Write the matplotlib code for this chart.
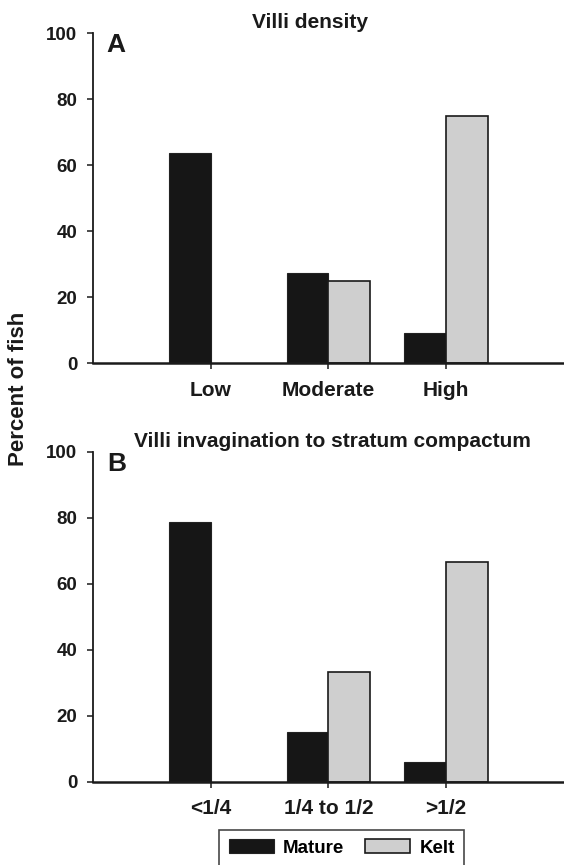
import matplotlib
matplotlib.use('Agg')
import matplotlib.pyplot as plt
import matplotlib.patches as mpatches
import numpy as np

plt.rcParams['font.family'] = ['Liberation Sans', 'DejaVu Sans']
plt.rcParams['font.weight'] = 'bold'

# datos
cat_a = ['Low', 'Moderate', 'High']
mature_a = [63.6, 27.3, 9.1]
kelt_a = [0, 25.0, 75.0]

cat_b = ['<1/4', '1/4 to 1/2', '>1/2']
mature_b = [78.8, 15.2, 6.1]
kelt_b = [0, 33.3, 66.7]

yticks = [0, 20, 40, 60, 80, 100]
series = ['Mature', 'Kelt']
col_mature = '#161616'
col_kelt = '#cfcfcf'

W, H = 564, 865
fig = plt.figure(figsize=(W / 100, H / 100), dpi=100)

def panel(rect, cats, mat, kel, letter):
    ax = fig.add_axes(rect)
    x = np.arange(1, len(cats) + 1)
    w = 0.355
    b1 = ax.bar(x, mat, width=-w, align='edge', color=col_mature,
                edgecolor='#222222', linewidth=0.8)
    b2 = ax.bar(x, kel, width=w, align='edge', color=col_kelt,
                edgecolor='#1a1a1a', linewidth=1.2)
    # barras de altura cero no se ven en el original
    for p in list(b1) + list(b2):
        if p.get_height() == 0:
            p.set_visible(False)
    ax.set_xlim(0, 4)
    ax.set_ylim(0, 100)
    ax.set_yticks(yticks)
    ax.set_xticks(x)
    ax.set_xticklabels(cats)
    ax.spines['top'].set_visible(False)
    ax.spines['right'].set_visible(False)
    ax.spines['left'].set_linewidth(1.3)
    ax.spines['bottom'].set_linewidth(1.8)
    ax.spines['left'].set_color('#1a1a1a')
    ax.spines['bottom'].set_color('#1a1a1a')
    ax.tick_params(axis='y', direction='out', length=4, width=1.1,
                   pad=7, labelsize=13.5, colors='#1a1a1a')
    ax.tick_params(axis='x', direction='out', length=4.5, width=1.1,
                   pad=8, labelsize=15, colors='#1a1a1a')
    for lb in ax.get_xticklabels() + ax.get_yticklabels():
        lb.set_fontweight('bold')
    ax.text(0.03, 1.0, letter, transform=ax.transAxes, fontsize=19,
            fontweight='bold', va='top', ha='left', color='#1a1a1a')
    ax.patch.set_alpha(0)
    return ax

left = 92.7 / W
width = 1 - left
hgt = 330 / H
axA = panel([left, (H - 363.3) / H, width, hgt], cat_a, mature_a, kelt_a, 'A')
axB = panel([left, (H - 781.7) / H, width, hgt], cat_b, mature_b, kelt_b, 'B')

fig.text(310 / W, 1 - 28.5 / H, 'Villi density', ha='center',
         va='baseline', fontsize=15, fontweight='bold', color='#1a1a1a')
fig.text(134 / W, 1 - 446.7 / H, 'Villi invagination to stratum compactum',
         ha='left', va='baseline', fontsize=15, fontweight='bold',
         color='#1a1a1a')
fig.text(19 / W, 1 - 388.5 / H, 'Percent of fish', rotation=90,
         ha='center', va='center', fontsize=16, fontweight='bold',
         color='#1a1a1a')

h = [mpatches.Patch(facecolor=col_mature, edgecolor='#222222', linewidth=0.8),
     mpatches.Patch(facecolor=col_kelt, edgecolor='#1a1a1a', linewidth=1.2)]
leg = fig.legend(h, series, loc='upper left', bbox_to_anchor=(219.3 / W, 1 - 830 / H),
                 ncol=2, fontsize=13.5, frameon=True, fancybox=False,
                 borderaxespad=0, borderpad=0.5, handlelength=2.4,
                 handleheight=0.72, handletextpad=0.5, columnspacing=1.1)
leg.get_frame().set_edgecolor('#1a1a1a')
leg.get_frame().set_linewidth(1.2)
for t in leg.get_texts():
    t.set_fontweight('bold')

fig.savefig('out.png', dpi=100)
